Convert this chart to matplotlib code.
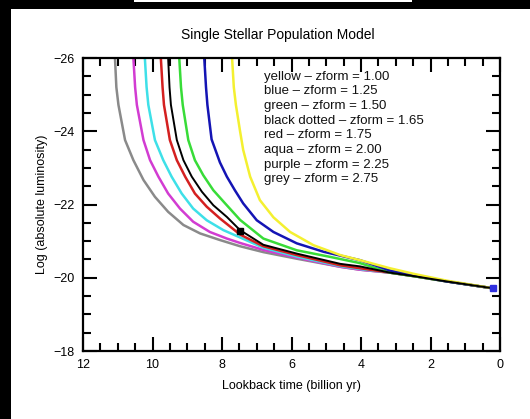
import matplotlib
matplotlib.use("Agg")
import matplotlib.pyplot as plt
from matplotlib.patches import Rectangle
from matplotlib.ticker import MultipleLocator

plt.rcParams["font.family"] = ["Liberation Sans", "DejaVu Sans"]

# curves: lookback time (Gyr) vs log luminosity
tail_x = [3.17, 2.45, 1.53, 0.19]
tail_y = [-20.14, -20.04, -19.90, -19.71]

grey_x = [11.08, 11.04, 10.98, 10.79, 10.55, 10.26, 9.93, 9.55, 9.11, 8.63, 8.06, 7.48, 6.81, 5.85,
          4.60, 4.03] + tail_x
grey_y = [-26.0, -25.2, -24.72, -23.76, -23.21, -22.67, -22.21, -21.80, -21.44, -21.21, -21.03, -20.86,
          -20.70, -20.52, -20.30, -20.22] + tail_y

purple_x = [10.55, 10.50, 10.45, 10.26, 10.07, 9.83, 9.55, 9.21, 8.83, 8.35, 7.86, 7.48, 6.81, 5.85,
            4.60, 4.03] + tail_x
purple_y = [-26.0, -25.2, -24.72, -23.76, -23.21, -22.76, -22.30, -21.89, -21.53, -21.25, -21.07, -20.95,
            -20.76, -20.55, -20.30, -20.22] + tail_y

aqua_x = [10.22, 10.17, 10.12, 9.93, 9.69, 9.45, 9.16, 8.83, 8.44, 7.96, 7.48, 6.81, 5.85,
          4.60, 4.03] + tail_x
aqua_y = [-26.0, -25.2, -24.72, -23.76, -23.21, -22.76, -22.30, -21.89, -21.57, -21.30, -21.10, -20.82,
          -20.58, -20.32, -20.24] + tail_y

red_x = [9.76, 9.71, 9.67, 9.50, 9.30, 9.06, 8.78, 8.44, 8.06, 7.48, 6.81, 5.85, 4.60, 4.03] + tail_x
red_y = [-26.0, -25.2, -24.72, -23.76, -23.21, -22.76, -22.30, -21.94, -21.62, -21.18, -20.86, -20.62,
         -20.34, -20.26] + tail_y

black_x = [9.55, 9.51, 9.47, 9.30, 9.11, 8.87, 8.58, 8.25, 7.86, 7.48, 6.81, 5.85, 4.60, 4.03] + tail_x
black_y = [-26.0, -25.2, -24.72, -23.76, -23.21, -22.76, -22.35, -21.98, -21.66, -21.30, -20.90, -20.66,
           -20.38, -20.31] + tail_y

green_x = [9.23, 9.18, 9.13, 8.97, 8.78, 8.54, 8.25, 7.91, 7.48, 6.81, 5.85, 4.89, 4.03] + tail_x
green_y = [-26.0, -25.2, -24.72, -23.76, -23.21, -22.80, -22.39, -22.03, -21.58, -21.07, -20.75, -20.57,
           -20.40] + tail_y

blue_x = [8.51, 8.46, 8.42, 8.30, 8.06, 7.86, 7.63, 7.39, 7.00, 6.52, 5.85, 5.08, 4.03, 3.17, 2.45, 1.53, 0.19]
blue_y = [-26.0, -25.2, -24.72, -23.78, -23.15, -22.76, -22.39, -22.03, -21.57, -21.25, -20.94, -20.71,
          -20.48, -20.20, -20.07, -19.90, -19.71]

yellow_x = [7.71, 7.66, 7.60, 7.48, 7.39, 7.19, 6.91, 6.52, 6.04, 5.37, 4.60, 4.03, 3.17, 2.45, 1.53, 0.19]
yellow_y = [-26.0, -25.2, -24.72, -24.0, -23.49, -22.76, -22.12, -21.65, -21.25, -20.89, -20.62, -20.48,
            -20.26, -20.10, -19.92, -19.71]

black_mark = (7.48, -21.27)
blue_mark = (0.19, -19.72)

labels = [
    "yellow \u2013 zform = 1.00",
    "blue \u2013 zform = 1.25",
    "green \u2013 zform = 1.50",
    "black dotted \u2013 zform = 1.65",
    "red \u2013 zform = 1.75",
    "aqua \u2013 zform = 2.00",
    "purple \u2013 zform = 2.25",
    "grey \u2013 zform = 2.75",
]

fig = plt.figure(figsize=(5.30, 4.19), dpi=100, facecolor="black")
# white page area and the thin white strip at the top edge
fig.patches.append(Rectangle((11 / 530, 0), 1, (419 - 9) / 419, transform=fig.transFigure,
                             facecolor="white", edgecolor="none", zorder=-5))
fig.patches.append(Rectangle((134 / 530, 1 - 2.5 / 419), (412 - 134) / 530, 2.5 / 419,
                             transform=fig.transFigure, facecolor="white", edgecolor="none", zorder=-5))

ax = fig.add_axes([83 / 530, 1 - 351 / 419, 417 / 530, 293 / 419])
ax.set_zorder(2)
ax.set_facecolor("white")

style = dict(lw=1.8, solid_joinstyle="round")
ax.plot(grey_x, grey_y, color="#8a8a8a", **style)
ax.plot(purple_x, purple_y, color="#d23cd2", **style)
ax.plot(aqua_x, aqua_y, color="#3ee0e8", **style)
ax.plot(red_x, red_y, color="#d42020", **style)
ax.plot(green_x, green_y, color="#38dc38", **style)
ax.plot(blue_x, blue_y, color="#1414b4", **style)
ax.plot(yellow_x, yellow_y, color="#f4f030", **style)
ax.plot(black_x, black_y, color="black", lw=1.4, solid_joinstyle="round")
ax.plot(*black_mark, marker="s", color="black", ms=4)
ax.plot(*blue_mark, marker="s", color="#3030e0", ms=5, clip_on=False)

ax.set_xlim(12, 0)
ax.set_ylim(-18, -26)
ax.xaxis.set_major_locator(MultipleLocator(2))
ax.xaxis.set_minor_locator(MultipleLocator(0.5))
ax.yaxis.set_major_locator(MultipleLocator(2))
ax.yaxis.set_minor_locator(MultipleLocator(0.5))
ax.tick_params(which="both", direction="in", top=True, right=True, width=1.5, labelsize=9, pad=6)
ax.tick_params(which="major", length=10)
ax.tick_params(which="minor", length=6)
for s in ax.spines.values():
    s.set_linewidth(1.6)

for i, t in enumerate(labels):
    ax.text(6.78, -25.49 + i * 0.40, t, fontsize=9.5, va="center", ha="left", color="#111111")

ax.set_xlabel("Lookback time (billion yr)", fontsize=9, labelpad=6)
ax.set_ylabel("Log (absolute luminosity)", fontsize=9, labelpad=4)
fig.text(278 / 530, 1 - 35 / 419, "Single Stellar Population Model", fontsize=10, ha="center", va="center")

fig.savefig("out.png", dpi=100, facecolor=fig.get_facecolor())
